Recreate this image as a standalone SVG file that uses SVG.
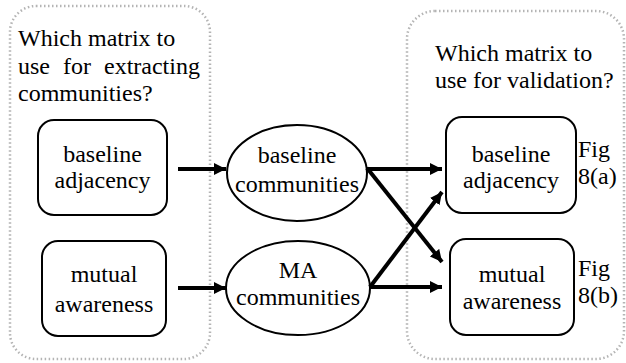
<svg xmlns="http://www.w3.org/2000/svg" width="626" height="363" viewBox="0 0 626 363">
<defs>
<marker id="ah" viewBox="0 0 12 12" refX="12" refY="6" markerWidth="12" markerHeight="12" markerUnits="userSpaceOnUse" orient="auto">
<path d="M0,0 L12,6 L0,12 z" fill="#000"/>
</marker>
</defs>
<rect width="626" height="363" fill="#fff"/>
<g id="extract-group">
<rect x="10" y="6" width="200" height="353" rx="26" fill="none" stroke="#b4b4b4" stroke-width="2.5" stroke-dasharray="1.5 2.5"/>
<text x="18" y="45.5" font-family="Liberation Serif" font-size="24">Which matrix to</text>
<text x="18" y="74" font-family="Liberation Serif" font-size="24" word-spacing="7">use for extracting</text>
<text x="18" y="101" font-family="Liberation Serif" font-size="24">communities?</text>
</g>
<g id="validate-group">
<rect x="407" y="11" width="217" height="348" rx="28" fill="none" stroke="#b4b4b4" stroke-width="2.5" stroke-dasharray="1.5 2.5"/>
<text x="435" y="61" font-family="Liberation Serif" font-size="24">Which matrix to</text>
<text x="435" y="88" font-family="Liberation Serif" font-size="24">use for validation?</text>
</g>
<g id="src-baseline">
<rect x="38" y="120" width="129" height="95" rx="16" fill="#fff" stroke="#000" stroke-width="2"/>
<text x="102.5" y="162" font-family="Liberation Serif" font-size="24" text-anchor="middle">baseline</text>
<text x="102.5" y="188" font-family="Liberation Serif" font-size="24" text-anchor="middle">adjacency</text>
</g>
<g id="src-mutual">
<rect x="42" y="241" width="124" height="95" rx="16" fill="#fff" stroke="#000" stroke-width="2"/>
<text x="104" y="282" font-family="Liberation Serif" font-size="24" text-anchor="middle">mutual</text>
<text x="104" y="312" font-family="Liberation Serif" font-size="24" text-anchor="middle">awareness</text>
</g>
<g id="baseline-communities">
<ellipse cx="297" cy="173" rx="70" ry="48" fill="#fff" stroke="#000" stroke-width="2"/>
<text x="297" y="163" font-family="Liberation Serif" font-size="24" text-anchor="middle">baseline</text>
<text x="297" y="192" font-family="Liberation Serif" font-size="24" text-anchor="middle">communities</text>
</g>
<g id="ma-communities">
<ellipse cx="298" cy="288" rx="72" ry="47" fill="#fff" stroke="#000" stroke-width="2"/>
<text x="298" y="278" font-family="Liberation Serif" font-size="24" text-anchor="middle">MA</text>
<text x="298" y="305" font-family="Liberation Serif" font-size="24" text-anchor="middle">communities</text>
</g>
<g id="val-baseline">
<rect x="446" y="117" width="130" height="96" rx="16" fill="#fff" stroke="#000" stroke-width="2"/>
<text x="511" y="162" font-family="Liberation Serif" font-size="24" text-anchor="middle">baseline</text>
<text x="511" y="188" font-family="Liberation Serif" font-size="24" text-anchor="middle">adjacency</text>
<text x="578" y="157" font-family="Liberation Serif" font-size="24">Fig</text>
<text x="578" y="184" font-family="Liberation Serif" font-size="24">8(a)</text>
</g>
<g id="val-mutual">
<rect x="450" y="239" width="124" height="96" rx="16" fill="#fff" stroke="#000" stroke-width="2"/>
<text x="512" y="282" font-family="Liberation Serif" font-size="24" text-anchor="middle">mutual</text>
<text x="512" y="309" font-family="Liberation Serif" font-size="24" text-anchor="middle">awareness</text>
<text x="578" y="276" font-family="Liberation Serif" font-size="24">Fig</text>
<text x="578" y="303" font-family="Liberation Serif" font-size="24">8(b)</text>
</g>
<g id="connectors" stroke="#000" stroke-width="4" fill="none" marker-end="url(#ah)">
<line x1="178" y1="169" x2="226" y2="169"/>
<line x1="178" y1="288" x2="226" y2="288"/>
<line x1="367" y1="169" x2="442" y2="169"/>
<line x1="367" y1="168" x2="442" y2="262"/>
<line x1="370" y1="287" x2="442" y2="192"/>
<line x1="370" y1="287" x2="442" y2="287"/>
</g>
</svg>
